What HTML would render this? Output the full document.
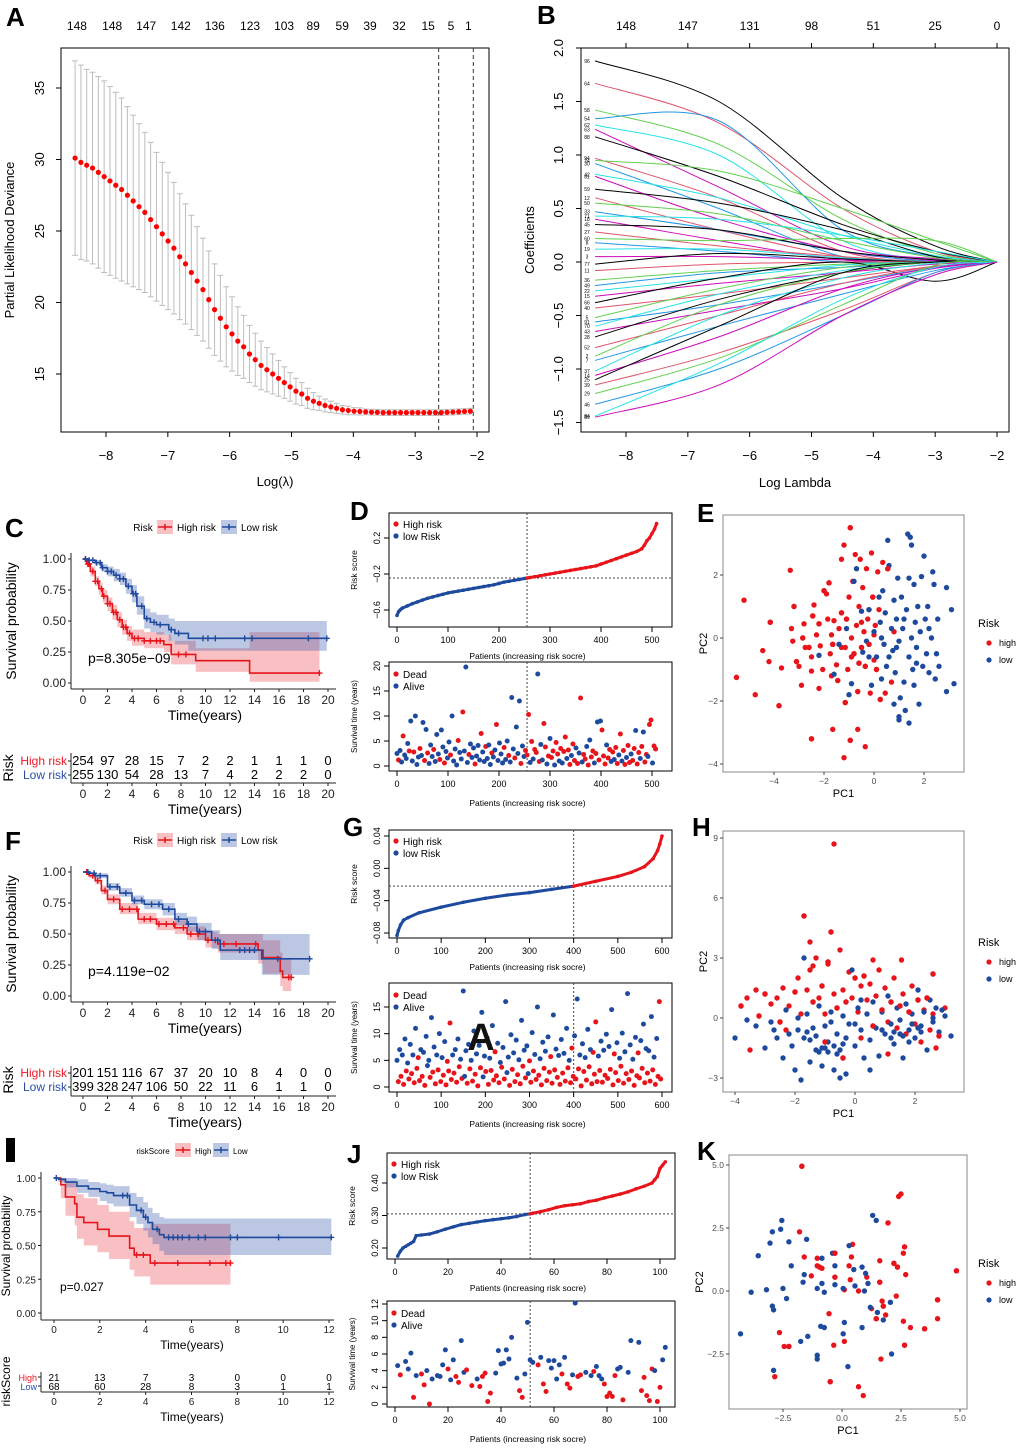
<!DOCTYPE html>
<html><head><meta charset="utf-8"><title>Prognostic model figure</title>
<style>html,body{margin:0;padding:0;background:#fff}svg{display:block;font-family:"Liberation Sans",Arial,sans-serif}</style>
</head><body>
<svg id="fig" width="1020" height="1451" viewBox="0 0 1020 1451" xmlns="http://www.w3.org/2000/svg"></svg>
<script>
// ---------------- DATA ----------------
// Panel A (CV deviance)
const aLambdaStart=-8.5, aLambdaStep=0.094;
const aMean=[30.1,29.8,29.6,29.4,29.1,28.8,28.5,28.2,27.9,27.5,27.1,26.7,26.3,25.8,25.3,24.8,24.3,23.8,23.2,22.7,22.1,21.5,20.9,20.2,19.5,18.9,18.3,17.8,17.3,16.9,16.4,16.0,15.6,15.3,15.0,14.7,14.4,14.1,13.8,13.6,13.3,13.1,12.95,12.8,12.7,12.6,12.5,12.45,12.4,12.38,12.35,12.33,12.32,12.3,12.3,12.3,12.3,12.3,12.3,12.3,12.3,12.3,12.3,12.3,12.32,12.34,12.36,12.38,12.4];
const aSE=[6.8,6.8,6.7,6.7,6.7,6.7,6.6,6.5,6.4,6.2,6.0,5.8,5.6,5.4,5.2,5.0,4.8,4.6,4.4,4.2,4.0,3.8,3.6,3.4,3.2,3.0,2.8,2.6,2.4,2.2,2.0,1.85,1.7,1.55,1.4,1.25,1.1,1.0,0.9,0.8,0.7,0.6,0.5,0.45,0.4,0.35,0.3,0.3,0.25,0.25,0.2,0.2,0.2,0.2,0.2,0.2,0.2,0.2,0.2,0.2,0.2,0.2,0.2,0.2,0.2,0.2,0.2,0.2,0.2];
const aTopLabels=['148','148','147','142','136','123','103','89','59','39','32','15','5','1'];
const aTopLambda=[-8.47,-7.9,-7.35,-6.79,-6.24,-5.67,-5.12,-4.65,-4.18,-3.73,-3.26,-2.79,-2.42,-2.14];
const aXTicks=[-8,-7,-6,-5,-4,-3,-2];
const aYTicks=[15,20,25,30,35];
const aCutoffs=[-2.62,-2.06];
// Panel B (coefficient paths), knots at log lambda
const bKnots=[-8.5,-6.5,-4.5,-3,-2];
const bPaths=[[1.88,1.5,0.6,0.15,0],[1.67,1.3,0.5,0.1,0],[1.42,1.1,0.4,0.08,0],[1.34,1.32,0.3,0.05,0],[1.28,1.0,0.2,0.02,0],[1.24,0.7,0.15,0.03,0],[1.17,0.8,0.35,0.1,0],[0.97,0.6,0.1,0,0],[0.95,0.85,0.5,0.2,0],[0.92,0.5,0.05,0,0],[0.82,0.6,0.25,0.06,0],[0.8,0.4,0.1,0.01,0],[0.68,0.55,0.3,0.05,0],[0.6,0.3,0.05,0,0],[0.55,0.45,0.2,0.04,0],[0.47,0.3,0.1,0,0],[0.43,0.4,0.25,0.1,0],[0.4,0.2,0.02,0,0],[0.35,0.3,0.1,0.02,0],[0.28,0.15,0.05,0,0],[0.22,0.2,0.22,0.2,0],[0.18,0.1,0,0,0],[0.12,0.12,0.04,0,0],[0.05,0.05,0.02,0,0],[-0.02,0.08,0.03,0,0],[-0.08,-0.02,0,0,0],[-0.17,-0.08,-0.02,0,0],[-0.22,-0.1,-0.05,0,0],[-0.27,-0.15,-0.03,0,0],[-0.32,-0.2,-0.1,-0.02,0],[-0.38,-0.15,0,-0.18,0],[-0.43,-0.3,-0.15,-0.04,0],[-0.52,-0.25,-0.05,0,0],[-0.56,-0.4,-0.2,-0.05,0],[-0.6,-0.3,-0.08,0,0],[-0.65,-0.45,-0.25,-0.06,0],[-0.7,-0.35,-0.1,0,0],[-0.8,-0.5,-0.2,-0.04,0],[-0.88,-0.4,-0.1,0,0],[-0.92,-0.6,-0.3,-0.08,0],[-1.02,-0.5,-0.15,-0.01,0],[-1.06,-0.7,-0.25,-0.05,0],[-1.1,-0.6,-0.1,0,0],[-1.15,-0.85,-0.45,-0.1,0],[-1.23,-0.9,-0.4,-0.03,0],[-1.33,-1.0,-0.5,-0.1,0],[-1.44,-0.95,-0.35,-0.05,0],[-1.45,-1.15,-0.5,-0.12,0]];
const bNames=['96','64','58','54','62','63','88','94','24','30','42','81','59','12','50','33','71','18','45','27','60','8','19','3','77','11','36','49','22','15','66','40','5','91','70','43','28','52','2','7','37','14','25','39','29','46','84','89'];
const bTopLabels=['148','147','131','98','51','25','0'];
const bTopLambda=[-8,-7,-6,-5,-4,-3,-2];
const bXTicks=[-8,-7,-6,-5,-4,-3,-2];
const bYTicks=[-1.5,-1.0,-0.5,0.0,0.5,1.0,1.5,2.0];
const bColors=['#000000','#DF536B','#61D04F','#2297E6','#28E2E5','#CD0BBC'];
// KM panel C
const cHighT=[0,0.3,0.6,1,1.3,1.6,2,2.4,2.8,3.2,3.6,4,5,6.6,7.2,9.2,13.6];
const cHighS=[1,0.96,0.9,0.82,0.76,0.7,0.64,0.57,0.51,0.45,0.4,0.36,0.34,0.31,0.23,0.18,0.08];
const cHighLo=[1,0.93,0.86,0.78,0.71,0.65,0.58,0.51,0.45,0.39,0.34,0.3,0.28,0.25,0.15,0.09,0.01];
const cHighUp=[1,0.99,0.94,0.86,0.81,0.75,0.69,0.63,0.57,0.51,0.46,0.43,0.41,0.39,0.34,0.28,0.41];
const cHighCens=[0.2,0.4,0.5,0.8,1,1.2,1.5,1.7,2,2.2,2.5,2.7,3,3.3,3.5,3.8,4.2,4.5,5,5.5,6,6.3,7.8,8.4,19.3];
const cLowT=[0,0.5,1,1.5,2,2.5,3,3.5,4,4.4,5,5.5,6,7,7.5,8.6];
const cLowS=[1,0.99,0.97,0.93,0.9,0.87,0.84,0.78,0.72,0.62,0.52,0.49,0.47,0.43,0.40,0.36];
const cLowLo=[1,0.98,0.95,0.9,0.86,0.82,0.79,0.72,0.65,0.55,0.44,0.41,0.39,0.34,0.31,0.26];
const cLowUp=[1,1,0.99,0.96,0.94,0.92,0.89,0.84,0.79,0.7,0.6,0.57,0.55,0.52,0.5,0.5];
const cLowCens=[0.2,0.5,0.8,1.1,1.4,1.6,2,2.3,2.7,3,3.3,3.7,4.1,4.3,4.8,5.2,5.8,6.3,7.2,7.8,9.8,10.2,10.8,13.2,13.8,18.4,19.9];
const cHighEnd=19.3, cLowEnd=19.9;
const cTabHigh=[254,97,28,15,7,2,2,1,1,1,0];
const cTabLow=[255,130,54,28,13,7,4,2,2,2,0];
// KM panel F
const fHighT=[0,0.5,1,1.5,2,3,4.5,6,7.5,8.5,10,11,14.3,14.7,16.1,16.3];
const fHighS=[1,0.97,0.93,0.85,0.78,0.7,0.62,0.58,0.55,0.5,0.45,0.42,0.37,0.31,0.2,0.15];
const fHighLo=[1,0.95,0.9,0.82,0.74,0.66,0.58,0.53,0.5,0.45,0.39,0.35,0.26,0.18,0.08,0.04];
const fHighUp=[1,0.99,0.96,0.89,0.82,0.75,0.67,0.63,0.61,0.56,0.52,0.5,0.5,0.45,0.35,0.3];
const fHighCens=[0.3,0.8,1.2,1.8,2.5,3.2,3.8,4.4,5,5.5,6.2,6.8,7.4,8.2,8.8,9.4,10.2,10.8,11.5,12.5,14.1,16.8,17];
const fLowT=[0,0.5,1,2,3,4,5,6.5,7.5,8.5,9.3,10.5,11.2,14.6];
const fLowS=[1,0.99,0.97,0.88,0.83,0.77,0.74,0.7,0.62,0.58,0.52,0.45,0.37,0.3];
const fLowLo=[1,0.98,0.95,0.85,0.8,0.74,0.7,0.65,0.57,0.52,0.45,0.38,0.29,0.17];
const fLowUp=[1,1,0.99,0.91,0.87,0.81,0.78,0.75,0.67,0.64,0.59,0.53,0.5,0.5];
const fLowCens=[0.4,0.9,1.4,2.2,2.8,3.5,4.2,4.8,5.6,6.2,7,7.8,8.6,9.5,10,11,12.8,13.2,13.6,14,15.9,18.5];
const fHighEnd=17, fLowEnd=18.5;
const fTabHigh=[201,151,116,67,37,20,10,8,4,0,0];
const fTabLow=[399,328,247,106,50,22,11,6,1,1,0];
// KM panel I
const iHighT=[0,0.3,0.5,0.9,1,1.3,1.9,2.4,3.3,3.5,4.2];
const iHighS=[1,0.95,0.86,0.81,0.71,0.67,0.62,0.57,0.48,0.43,0.37];
const iHighLo=[1,0.85,0.72,0.65,0.55,0.5,0.45,0.4,0.32,0.27,0.21];
const iHighUp=[1,1,0.98,0.96,0.88,0.85,0.8,0.75,0.68,0.63,0.66];
const iHighCens=[3.6,3.9,4.4,5.4,6.8,7.5,7.7];
const iLowT=[0,0.2,0.5,1,1.5,2,2.3,2.6,3.3,3.6,3.9,4.1,4.3,4.6,4.8];
const iLowS=[1,0.99,0.97,0.94,0.92,0.9,0.89,0.87,0.8,0.76,0.71,0.67,0.62,0.58,0.56];
const iLowLo=[1,0.97,0.93,0.89,0.86,0.83,0.81,0.79,0.71,0.66,0.61,0.56,0.51,0.46,0.43];
const iLowUp=[1,1,1,0.99,0.97,0.96,0.95,0.94,0.89,0.86,0.82,0.78,0.74,0.71,0.7];
const iLowCens=[0.1,3,3.2,3.8,4.0,4.5,5.0,5.2,5.4,5.6,5.9,6.3,6.6,7.7,8.0,9.8,12.1];
const iHighEnd=7.7, iLowEnd=12.1;
const iTabHigh=[21,13,7,3,0,0,0];
const iTabLow=[68,60,28,8,3,1,1];
// Panel D (risk curve + survival scatter)
const dRank=[0,3,6,10,20,30,40,50,60,70,80,90,100,110,120,130,140,150,160,170,180,190,200,210,220,230,240,250,255,260,270,280,290,300,310,320,330,340,350,360,370,380,390,400,410,420,430,440,450,460,470,480,485,490,495,500,505,509];
const dRisk=[-0.66,-0.62,-0.6,-0.58,-0.555,-0.53,-0.51,-0.49,-0.47,-0.455,-0.44,-0.425,-0.41,-0.4,-0.39,-0.38,-0.37,-0.36,-0.35,-0.34,-0.33,-0.32,-0.305,-0.29,-0.28,-0.27,-0.26,-0.25,-0.245,-0.24,-0.23,-0.22,-0.21,-0.2,-0.19,-0.18,-0.17,-0.16,-0.15,-0.14,-0.13,-0.12,-0.11,-0.09,-0.07,-0.05,-0.03,-0.01,0.01,0.03,0.05,0.08,0.12,0.17,0.2,0.25,0.3,0.36];
const dCut=255, dRiskCut=-0.245;
const dRankStep=3;
const dTime=[2.5,1.2,3.1,0.8,6,2.2,1.5,4.5,3,9,1,2.8,10,0.3,1.8,3.5,2.1,8.7,1.1,7.3,2.6,0.5,4.2,1.9,3.3,0.9,6.3,2.4,1.3,7.2,3.8,0.6,2.9,1.6,4.8,2.2,10,1.0,3.4,0.2,5.1,2.7,1.4,10.8,3.0,19.8,0.7,2.3,4.4,1.7,3.6,0.4,2.0,4.1,1.2,6.5,2.8,0.9,3.9,1.5,4.2,0.3,2.6,1.8,3.2,8.3,1.1,4.6,2.4,0.6,3.7,1.3,5.0,2.1,0.8,13.7,3.4,1.6,7.8,2.5,13.0,0.5,4.0,1.9,3.1,2.2,10.3,0.7,4.9,1.4,3.3,2.7,18.4,0.9,4.3,1.2,8.5,3.8,0.4,2.0,5.5,1.7,3.0,0.2,4.7,2.4,1.0,3.5,0.6,2.9,5.8,1.5,3.2,0.3,2.1,4.4,1.1,3.6,0.5,2.6,13.6,0.8,2.3,1.4,3.9,0.2,5.2,1.8,3.0,0.6,2.5,8.8,1.2,9.0,7.2,2.0,0.4,4.2,1.6,3.3,0.9,2.8,1.3,3.7,0.5,2.2,6.4,1.0,3.1,0.3,1.7,4.1,0.7,2.4,1.1,3.5,7.1,0.4,2.7,1.5,3.9,6.8,0.8,2.3,1.9,8.3,9.2,0.6,4.0,3.4];
const dStatus=("0100100010"+"0100010010"+"1000100010"+"0100010000"+"1001000100"+"0100010010"+"0010010000"+"1001000100"+"01001"+"1101011010"+"0110101101"+"1010110110"+"1101010110"+"1011010101"+"1101101011"+"0101101101"+"1011010110"+"11011").split('').map(Number);
// Panel G
const gRank=[0,3,8,15,25,50,100,150,200,250,300,350,400,450,500,530,560,580,590,595,600];
const gRisk=[-0.083,-0.077,-0.07,-0.064,-0.061,-0.055,-0.048,-0.042,-0.037,-0.033,-0.03,-0.026,-0.022,-0.016,-0.01,-0.005,0.002,0.012,0.022,0.03,0.04];
const gCut=400, gRiskCut=-0.022;
const gRankStep=3;
const gTime=[5,1,7,2,6,0.5,9,3,4.5,1.5,8,2.5,6,0.8,11,3.5,5.5,1.2,7,2,6.5,0.3,9.5,4,5,1.8,13,2.8,7.5,0.6,6,3.2,10,1,5.5,2.2,8.5,0.4,4.8,3,12,1.4,6,2.6,7,0.9,9,3.8,5.2,1.6,18,2,6.8,0.7,8,3.4,5,1.1,10.5,2.4,6.2,0.2,7.8,3.6,14,1.9,5.8,2.9,9.2,0.5,5.4,3.1,11.5,1.3,6.6,2.1,8.2,0.8,4.6,3.7,7.4,1.5,16,2.7,5.6,0.3,9.8,3.3,6.4,1.0,8.8,2.3,5.1,0.6,12.5,3.9,6.9,1.7,7.7,2.5,4.9,0.9,10.2,3.0,6.1,1.4,15,2.2,5.3,0.4,8.4,3.5,6.7,1.2,9.4,2.8,5.7,0.7,13.5,3.2,7.1,1.8,5.9,0.5,8.9,2.6,6.3,1.1,11,3.6,5.0,0.8,7.3,2.0,9.6,1.5,16.5,3.4,6.0,0.2,8.1,2.9,5.5,1.3,10.8,3.8,7.0,0.6,6.5,2.4,12.2,1.0,5.8,3.1,8.6,0.9,6.9,2.2,9.9,1.6,7.6,3.3,14.5,0.4,6.2,2.7,8.3,1.2,5.4,3.9,10.1,0.7,6.6,2.5,17.5,1.4,7.9,3.0,5.2,0.3,9.3,2.1,6.4,1.7,8.7,3.5,11.8,0.8,7.2,2.6,6.8,1.1,13.2,3.2,5.6,0.5,9.1,2.0,16,1.5];
const gStatus=("0101010101"+"0101011101"+"0100010101"+"0101010111"+"1101010101"+"0001010101"+"0101000101"+"0101110101"+"0100010101"+"0101010100"+"1101010101"+"0101011101"+"0101010101"+"0111010101"+"0101010111"+"1101010101"+"0101110101"+"0101010101"+"0111010101"+"0101010111").split('').map(Number);
// Panel J
const jRank=[1,2,3,4,5,6,7,8,10,13,16,19,22,25,28,31,34,37,40,43,46,49,51,52,55,58,61,64,67,70,73,76,79,82,85,88,91,94,97,98,99,100,101,102];
const jRisk=[0.175,0.19,0.2,0.205,0.21,0.215,0.22,0.238,0.24,0.243,0.25,0.258,0.265,0.272,0.276,0.28,0.284,0.287,0.29,0.293,0.297,0.303,0.305,0.307,0.312,0.318,0.325,0.33,0.333,0.336,0.343,0.347,0.354,0.36,0.366,0.373,0.382,0.39,0.40,0.41,0.42,0.445,0.455,0.465];
const jCut=51, jRiskCut=0.305;
const jbRank=[1,2,4,5,6,7,8,10,11,12,13,14,16,17,18,19,20,21,22,23,24,25,26,27,29,31,32,33,34,35,36,38,39,40,41,42,43,44,46,47,48,49,50,51,52,54,55,56,57,58,59,60,61,62,63,64,65,66,67,68,69,70,72,74,75,76,77,78,79,80,81,82,83,84,85,86,88,89,92,93,94,95,96,97,98,99,100,101,102];
const jbTime=[4.6,3.5,5.1,4.2,6.1,0.8,3.4,3.6,2.3,4.0,0.0,3.0,3.4,3.3,4.7,6.5,4.2,2.9,5.3,3.3,2.6,7.6,3.8,4.1,2.2,3.0,2.1,3.3,3.7,0.3,1.3,3.7,6.4,4.8,4.9,6.5,5.4,8.0,3.1,1.6,0.8,3.6,9.8,5.3,5.0,4.7,5.6,2.4,1.5,5.2,4.3,5.2,3.0,4.7,3.6,5.6,2.4,1.9,3.5,12.1,3.3,3.5,3.8,3.4,3.9,4.5,3.4,3.0,2.4,0.9,1.3,0.9,3.4,4.2,4.4,0.5,3.8,7.6,7.4,1.6,3.2,1.0,0.4,4.2,4.0,0.3,2.0,5.3,6.8];
const jbDead=[0,1,0,0,0,1,0,1,1,0,1,0,0,0,0,0,1,0,0,1,1,0,0,1,1,0,1,1,1,1,1,0,0,0,0,0,0,0,0,1,1,0,0,0,0,1,0,1,1,0,0,0,0,0,1,0,1,1,0,0,1,1,0,0,1,0,0,0,1,1,1,1,1,0,0,1,0,0,0,1,1,1,1,1,0,1,1,0,0];
// PCA panels
const eHighX=[-5.5,-5.2,-4.75,-4.15,-4.45,-4.2,-3.8,-3.7,-3.35,-3.2,-3.3,-3.25,-3.1,-3.0,-2.9,-2.85,-2.75,-2.8,-2.6,-2.5,-2.5,-2.45,-2.4,-2.3,-2.2,-2.15,-2.05,-2.0,-1.9,-1.85,-1.8,-1.75,-1.7,-1.65,-1.6,-1.5,-1.45,-1.4,-1.3,-1.3,-1.2,-1.15,-1.1,-1.05,-1.0,-0.95,-0.9,-0.85,-0.8,-0.75,-0.7,-0.65,-0.6,-0.55,-0.5,-0.45,-0.4,-0.35,-0.3,-0.25,-0.2,-0.15,-0.1,-0.05,0,0.05,0.1,0.15,0.2,0.25,0.35,0.45,0.55,0.7,0.8,-2.5,-1.65,-0.65,-0.95,-0.35,-1.2,-1.15,-1.7,-2.2,-0.9,-0.5,-0.2,-0.6,0.0,-1.3];
const eHighY=[-1.25,1.2,-1.8,0.5,-0.4,-0.75,-2.15,-0.95,2.15,1.0,0.3,-0.1,-0.75,-0.9,-1.5,0.0,-0.3,0.45,-0.3,-0.6,-1.05,0.7,1.05,0.1,0.45,-0.25,-1.0,1.5,1.4,0.6,1.75,-0.5,0.1,-0.2,0.55,-0.85,-1.35,0.3,2.5,0.8,2.95,-0.3,0.6,-1.0,1.3,3.5,0.0,1.8,-0.5,2.65,0.4,-1.7,1.0,2.5,-0.3,1.6,0.2,-0.9,2.2,0.6,-0.2,-1.75,2.7,1.3,-0.7,0.4,-1.0,2.1,0.9,-1.95,2.4,-1.75,2.2,-1.4,0.2,-3.2,-2.9,-2.9,-3.25,-3.45,-3.8,-2.05,-1.2,-1.6,-0.6,0.5,0.9,-0.8,0.1,-0.3];
const eLowX=[-2.2,-1.6,-1.4,-1.1,-1.0,-0.9,-0.8,-0.7,-0.5,-0.45,-0.3,-0.2,-0.1,0,0.1,0.2,0.25,0.3,0.35,0.4,0.45,0.5,0.55,0.6,0.7,0.75,0.8,0.85,0.9,0.95,1.0,1.0,1.05,1.1,1.15,1.2,1.25,1.3,1.35,1.4,1.45,1.5,1.5,1.55,1.6,1.65,1.7,1.75,1.8,1.85,1.9,1.95,2.0,2.05,2.1,2.15,2.2,2.3,2.35,2.4,2.45,2.5,2.55,2.6,2.9,2.9,3.1,3.2,1.0,1.4,0.8,1.7,0.6,1.2,0.3,1.6,2.2,0.9,-0.2,1.4];
const eLowY=[-0.55,-1.15,-0.2,0.3,-1.8,-1.45,1.8,2.2,0.85,-0.45,-0.1,0.9,-1.5,0.2,-0.6,1.3,0.5,-1.3,1.5,-0.2,0.8,-0.9,3.1,2.3,0.3,-0.4,1.2,-1.1,0.6,1.9,-0.1,-2.5,-1.9,1.3,0.3,-1.4,-2.3,0.9,3.3,-0.6,3.2,2.95,0.0,-1.0,1.7,0.5,-0.3,1.0,-2.1,0.2,1.95,-0.9,2.6,0.6,-0.5,1.0,-1.1,0.0,2.1,1.7,-1.3,-0.5,0.6,-0.9,1.6,-1.7,0.9,-1.45,-2.6,-2.7,-2.1,-0.8,-0.6,0.6,0.0,-1.5,0.3,-0.3,-0.6,1.9];
const hHighX=[-3.8,-3.6,-3.3,-3.0,-2.8,-2.6,-2.5,-2.4,-2.2,-2.0,-1.9,-1.8,-1.7,-1.6,-1.5,-1.4,-1.3,-1.2,-1.1,-1.0,-0.9,-0.8,-0.7,-0.7,-0.6,-0.5,-0.4,-0.3,-0.2,-0.1,0,0.1,0.2,0.3,0.4,0.5,0.6,0.7,0.8,0.9,1.0,1.1,1.2,1.3,1.4,1.5,1.6,1.7,1.8,1.9,2.0,2.1,2.2,2.3,2.4,2.5,2.6,2.8,3.0,-2.3,-1.0,0.2,1.1,-0.4,2.7,-3.5,-3.2,-1.5,-1.4,-0.9,0.6,1.55,2.6];
const hHighY=[0.6,1.0,1.4,1.2,0.7,1.0,-0.2,1.5,0.6,1.3,2.0,0.2,5.1,1.4,3.8,0.8,3.0,1.0,1.6,0.2,2.7,4.3,8.7,1.2,0.5,3.4,1.4,0.8,2.3,1.0,2.0,0.3,1.6,2.1,0.9,1.7,-0.4,1.1,2.4,0.4,1.5,-0.2,0.8,2.0,-0.5,0.6,1.2,-0.8,0.3,1.6,-0.3,0.9,-1.2,0.4,1.0,-0.6,0.2,-0.9,0.5,-0.6,-1.2,-1.0,-1.8,-2.0,-1.5,-1.6,0.1,2.4,2.6,2.8,2.9,2.9,2.2];
const hLowX=[-4.0,-3.6,-3.3,-3.0,-2.8,-2.6,-2.4,-2.3,-2.1,-2.0,-1.9,-1.8,-1.7,-1.6,-1.5,-1.4,-1.3,-1.2,-1.1,-1.0,-0.9,-0.8,-0.7,-0.6,-0.5,-0.4,-0.3,-0.2,-0.1,0,0.1,0.2,0.3,0.4,0.5,0.6,0.7,0.8,0.9,1.0,1.1,1.2,1.3,1.4,1.5,1.6,1.7,1.8,1.9,2.0,2.1,2.2,2.3,2.4,2.5,2.6,2.7,2.8,2.9,3.0,3.2,-1.7,-0.5,0.5,-2.2,-1.5,-1.0,-0.3,0.9,1.6,2.1,-1.2,-0.7,0.0,1.3,1.9,2.6,-2.7,-1.9,-0.8,0.2,-1.1,-0.6,-0.9,-1.3,1.5,1.8,2.2,1.2,-0.4,-1.6];
const hLowY=[-1.0,-0.1,-0.4,-1.5,-0.2,-1.0,-2.0,0.4,-1.4,-2.6,-0.6,-3.1,-1.0,0.2,-2.2,-0.5,-1.6,0.6,-2.4,-0.4,-1.2,0.3,-2.6,-0.8,-1.6,0.1,-2.8,-0.3,2.4,-1.4,0.5,-0.6,-2.0,0.2,-1.1,0.8,-0.5,-1.9,0.3,-0.8,1.1,-0.3,-1.3,0.5,-0.1,-2.0,0.7,-0.6,0.2,-1.0,1.4,-0.4,0.3,-1.6,0.9,-0.2,0.5,-0.7,0.4,0.1,-0.9,3.0,-3.0,-2.6,-0.8,-1.1,-1.5,-1.0,-0.6,-0.9,-0.5,-1.7,-1.4,-0.3,-0.7,-0.3,0.0,-0.6,0.0,-0.2,0.9,-1.5,-1.8,-1.7,-0.9,-0.8,-1.2,-0.7,-1.0,-1.3,-0.7];
const kHighX=[-1.7,2.4,2.5,1.95,-1.8,0.45,2.65,-1.6,-1.05,-0.3,0.4,1.6,2.2,2.6,-1.05,-0.95,-0.85,0.3,2.35,2.7,-1.3,-0.3,0.35,1.05,1.6,0.1,0.7,4.85,2.3,1.7,1.75,1.25,1.85,1.45,-0.55,2.6,4.05,4.05,2.9,3.5,-2.65,-2.45,-2.25,-0.35,0.1,2.65,1.65,-2.85,-0.5,0.7,0.9];
const kHighY=[4.95,3.75,3.85,2.7,2.35,1.85,1.75,1.35,1.3,1.5,1.35,1.2,1.1,1.5,1.0,0.95,0.9,1.0,0.95,0.65,0.6,0.55,0.45,0.55,0.35,0.05,0.0,0.8,-0.2,-0.4,-0.6,-0.7,-0.95,-1.1,-0.9,-1.2,-0.35,-1.1,-1.45,-1.5,-1.65,-2.2,-2.2,-2.15,-2.0,-2.15,-2.7,-3.4,-3.6,-3.8,-4.15];
const kLowX=[1.3,1.45,-2.55,-2.95,-2.6,-2.25,-1.5,-3.05,-3.55,-0.4,0.3,-0.85,-2.15,-0.3,0.5,0.85,1.0,-1.6,-1.65,-0.85,-0.3,0.55,1.1,-2.5,-1.05,0.05,0.95,-3.2,-3.85,-0.75,-2.35,1.2,2.05,-2.95,-2.9,1.5,1.75,0.1,-0.9,-0.75,0.85,-1.45,-4.3,0.05,-1.75,-1.05,-1.05,2.1,-2.9,0.25];
const kLowY=[3.0,2.8,2.8,2.35,2.45,1.95,2.05,1.9,1.4,1.5,1.8,1.3,1.0,1.0,0.85,0.95,0.7,0.65,0.35,0.3,0.25,0.2,0.3,0.1,0.1,0.1,0.0,0.05,-0.05,-0.05,-0.3,-0.65,-0.45,-0.6,-0.75,-0.85,-1.15,-1.25,-1.4,-1.45,-1.45,-1.8,-1.7,-1.7,-2.0,-2.55,-2.7,-2.5,-3.15,-3.0];

// ---------------- HELPERS ----------------
const NS='http://www.w3.org/2000/svg';
const svg=document.getElementById('fig');
const RED='#e8141b', BLUE='#1e4a9e';
function lin(d0,d1,r0,r1){return function(v){return r0+(v-d0)*(r1-r0)/(d1-d0);};}
function E(tag,attrs,parent){const el=document.createElementNS(NS,tag);for(const k in attrs)el.setAttribute(k,attrs[k]);(parent||svg).appendChild(el);return el;}
function grp(name){const g=E('g',{});


return g;}
function T(x,y,s,size,name,parent,o){o=o||{};const el=E('text',{x:x,y:y,'font-size':size,'text-anchor':o.a||'middle',fill:o.fill||'#000'},parent);


if(o.rot)el.setAttribute('transform','rotate(-90 '+x+' '+y+')');if(o.w)el.setAttribute('font-weight',o.w);el.textContent=s;return el;}
function L(x1,y1,x2,y2,stroke,w,name,parent,dash){const el=E('line',{x1:x1,y1:y1,x2:x2,y2:y2,stroke:stroke,'stroke-width':w},parent);


if(dash)el.setAttribute('stroke-dasharray',dash);return el;}
function R(x,y,w,h,stroke,fill,name,parent,sw){const el=E('rect',{x:x,y:y,width:w,height:h,stroke:stroke,fill:fill,'stroke-width':sw||1},parent);


return el;}
function C(cx,cy,r,fill,name,parent){const el=E('circle',{cx:cx,cy:cy,r:r,fill:fill},parent);


return el;}
function P(d,stroke,fill,w,name,parent){const el=E('path',{d:d,stroke:stroke,fill:fill,'stroke-width':w},parent);


return el;}
function fmt(v,dec){return (v<0?'\u2212':'')+Math.abs(v).toFixed(dec);}
function letter(ch,x,y){T(x,y,ch,26,'panel-label-'+ch.toLowerCase(),svg,{a:'start',w:'bold'});}

function baseAxes(g,box,sx,sy,xt,yt,xdec,ydec,fs,ylabX,xlabY){
  R(box[0],box[1],box[2]-box[0],box[3]-box[1],'#000','none','plot-frame',g);
  xt.forEach(function(v){L(sx(v),box[3],sx(v),box[3]+5,'#000',1,'x-tick',g);T(sx(v),xlabY,fmt(v,xdec),fs,'x-tick-label',g);});
  yt.forEach(function(v){L(box[0],sy(v),box[0]-5,sy(v),'#000',1,'y-tick',g);T(ylabX,sy(v),fmt(v,ydec),fs,'y-tick-label',g,{rot:1});});
}

// ---------------- PANEL A ----------------
(function(){
  const g=grp('panel-a-cv-deviance');
  const box=[61,48,489,432];
  const sx=lin(-8,-2,106,477), sy=lin(35,15,88,374);
  baseAxes(g,box,sx,sy,aXTicks,aYTicks,0,0,13,44,460);
  aTopLabels.forEach(function(s,i){T(sx(aTopLambda[i]),30,s,12,'top-df-label',g);});
  aCutoffs.forEach(function(v){L(sx(v),box[1],sx(v),box[3],'#333',1,'lambda-cutoff-line',g,'4,3');});
  aMean.forEach(function(m,i){const lx=aLambdaStart+i*aLambdaStep,x=sx(lx);
    L(x,sy(m+aSE[i]),x,sy(m-aSE[i]),'#bdbdbd',1,'error-bar',g);
    L(x-3,sy(m+aSE[i]),x+3,sy(m+aSE[i]),'#bdbdbd',1,'error-cap',g);
    L(x-3,sy(m-aSE[i]),x+3,sy(m-aSE[i]),'#bdbdbd',1,'error-cap',g);});
  aMean.forEach(function(m,i){C(sx(aLambdaStart+i*aLambdaStep),sy(m),2.6,'#f00','deviance-point',g);});
  T(275,486,'Log(\u03bb)',13,'x-axis-title',g);
  T(14,240,'Partial Likelihood Deviance',13,'y-axis-title',g,{rot:1});
  letter('A',6,26);
})();

// ---------------- PANEL B ----------------
(function(){
  const g=grp('panel-b-coefficient-paths');
  const box=[581,48,1009,432];
  const sx=lin(-8,-2,626,997), sy=lin(0,2,262,48);
  baseAxes(g,box,sx,sy,bXTicks,bYTicks,0,1,13,563,460);
  bTopLambda.forEach(function(v,i){L(sx(v),box[1],sx(v),box[1]-5,'#000',1,'top-tick',g);T(sx(v),30,bTopLabels[i],12,'top-df-label',g);});
  bPaths.forEach(function(vals,li){
    const pts=bKnots.map(function(k,j){return [sx(k),sy(vals[j])];});
    let d='M'+pts[0][0]+','+pts[0][1];
    for(let j=0;j<pts.length-1;j++){const p0=pts[Math.max(0,j-1)],p1=pts[j],p2=pts[j+1],p3=pts[Math.min(pts.length-1,j+2)];
      d+=' C'+(p1[0]+(p2[0]-p0[0])/6)+','+(p1[1]+(p2[1]-p0[1])/6)+' '+(p2[0]-(p3[0]-p1[0])/6)+','+(p2[1]-(p3[1]-p1[1])/6)+' '+p2[0]+','+p2[1];}
    P(d,bColors[li%6],'none',1,'coef-path',g);
    T(587,sy(vals[0])+2,bNames[li],5,'variable-label',g);
  });
  T(795,487,'Log Lambda',13,'x-axis-title',g);
  T(534,240,'Coefficients',13,'y-axis-title',g,{rot:1});
  letter('B',537,24);
})();

// ---------------- KM ----------------
function stepAt(T_,S_,t){let s=S_[0];for(let i=0;i<T_.length;i++){if(T_[i]<=t)s=S_[i];}return s;}
function kmPanel(cfg){
  const g=grp(cfg.name);
  const sx=cfg.sx, sy=cfg.sy;
  T(cfg.leg[0],cfg.leg[1]+4,cfg.legTitle,cfg.legFs,'legend-title',g);
  cfg.groups.forEach(function(gr,k){const lx=cfg.legX[k];
    R(lx,cfg.leg[1]-7,16,14,'none',gr.fill,'legend-key-'+gr.key,g);
    L(lx+1,cfg.leg[1],lx+15,cfg.leg[1],gr.color,1.5,'legend-line-'+gr.key,g);
    L(lx+8,cfg.leg[1]-3,lx+8,cfg.leg[1]+3,gr.color,1.5,'legend-cross-'+gr.key,g);
    T(lx+20,cfg.leg[1]+4,gr.label,cfg.legFs,'legend-label-'+gr.key,g,{a:'start'});});
  cfg.groups.forEach(function(gr){
    const n=gr.T.length;let d='M'+sx(gr.T[0])+','+sy(gr.Up[0]);
    for(let i=1;i<n;i++)d+=' H'+sx(gr.T[i])+' V'+sy(gr.Up[i]);
    d+=' H'+sx(gr.end)+' V'+sy(gr.Lo[n-1]);
    for(let i=n-1;i>=1;i--)d+=' H'+sx(gr.T[i])+' V'+sy(gr.Lo[i-1]);
    d+=' H'+sx(gr.T[0])+' Z';
    P(d,'none',gr.fill,0,'ci-band-'+gr.key,g);});
  cfg.groups.forEach(function(gr){
    let d='M'+sx(gr.T[0])+','+sy(gr.S[0]);
    for(let i=1;i<gr.T.length;i++)d+=' H'+sx(gr.T[i])+' V'+sy(gr.S[i]);
    d+=' H'+sx(gr.end);
    P(d,gr.color,'none',1.6,'survival-curve-'+gr.key,g);
    gr.cens.forEach(function(t){const x=sx(t),y=sy(stepAt(gr.T,gr.S,t));
      L(x-3,y,x+3,y,gr.color,1.4,'censor-mark',g);L(x,y-3,x,y+3,gr.color,1.4,'censor-mark',g);});});
  const ax=cfg.axisX, ay=cfg.axisY;
  L(ax,cfg.yTop,ax,ay,'#222',1,'y-axis-line',g);
  L(ax,ay,cfg.xRight,ay,'#222',1,'x-axis-line',g);
  cfg.yt.forEach(function(v){L(ax,sy(v),ax-3,sy(v),'#222',1,'y-tick',g);T(ax-5,sy(v)+4,v.toFixed(2),cfg.tfs,'y-tick-label',g,{a:'end',fill:'#222'});});
  cfg.xt.forEach(function(v){L(sx(v),ay,sx(v),ay+3,'#222',1,'x-tick',g);T(sx(v),ay+cfg.tfs+3,String(v),cfg.tfs,'x-tick-label',g,{fill:'#222'});});
  T(cfg.titleX,ay+cfg.tfs+19,'Time(years)',cfg.afs,'x-axis-title',g);
  T(cfg.ytitleX,(cfg.yTop+ay)/2,'Survival probability',cfg.afs,'y-axis-title',g,{rot:1});
  T(cfg.pPos[0],cfg.pPos[1],cfg.pText,cfg.afs,'p-value',g,{a:'start'});
  const tb=cfg.table;
  L(ax,tb.top,ax,tb.axis,'#222',1,'table-y-axis',g);
  L(ax,tb.axis,cfg.xRight,tb.axis,'#222',1,'table-x-axis',g);
  cfg.groups.forEach(function(gr,k){const ry=tb.rows[k];
    L(ax,ry,ax-3,ry,'#222',1,'table-tick',g);
    T(ax-4,ry+4,gr.tabLabel,cfg.labFs,'table-row-label-'+gr.key,g,{a:'end',fill:gr.tcolor});
    gr.tab.forEach(function(n,i){T(sx(cfg.xt[i]),ry+4,String(n),cfg.tabFs,'at-risk-count',g);});});
  cfg.xt.forEach(function(v){L(sx(v),tb.axis,sx(v),tb.axis+3,'#222',1,'table-x-tick',g);T(sx(v),tb.axis+cfg.tfs+3,String(v),cfg.tfs,'table-x-tick-label',g,{fill:'#222'});});
  T(cfg.titleX,tb.axis+cfg.tfs+19,'Time(years)',cfg.afs,'table-x-axis-title',g);
  T(tb.titleX,(tb.rows[0]+tb.rows[1])/2,tb.title,cfg.afs,'table-y-axis-title',g,{rot:1});
}
const PINK='rgba(240,90,100,0.38)', LBLUE='rgba(60,95,175,0.35)';
const xt20=[0,2,4,6,8,10,12,14,16,18,20];
kmPanel({name:'panel-c-km-training',sx:lin(0,20,83,328),sy:lin(0,1,683,559),leg:[143,527],legTitle:'Risk',legFs:10,legX:[157,221],
  groups:[{key:'high',label:'High risk',tabLabel:'High risk',T:cHighT,S:cHighS,Lo:cHighLo,Up:cHighUp,end:cHighEnd,cens:cHighCens,color:RED,tcolor:'#f01820',fill:PINK,tab:cTabHigh},
          {key:'low',label:'Low risk',tabLabel:'Low risk',T:cLowT,S:cLowS,Lo:cLowLo,Up:cLowUp,end:cLowEnd,cens:cLowCens,color:BLUE,tcolor:'#2a4ea8',fill:LBLUE,tab:cTabLow}],
  axisX:71,axisY:689,yTop:553,xRight:336,yt:[0,0.25,0.5,0.75,1],xt:xt20,tfs:12,afs:14,titleX:205,ytitleX:16,pPos:[88,663],pText:'p=8.305e\u221209',
  tabFs:13,labFs:12,table:{top:753,axis:783,rows:[761,775],title:'Risk',titleX:13}});
kmPanel({name:'panel-f-km-validation',sx:lin(0,20,83,328),sy:lin(0,1,996,872),leg:[143,840],legTitle:'Risk',legFs:10,legX:[157,221],
  groups:[{key:'high',label:'High risk',tabLabel:'High risk',T:fHighT,S:fHighS,Lo:fHighLo,Up:fHighUp,end:fHighEnd,cens:fHighCens,color:RED,tcolor:'#f01820',fill:PINK,tab:fTabHigh},
          {key:'low',label:'Low risk',tabLabel:'Low risk',T:fLowT,S:fLowS,Lo:fLowLo,Up:fLowUp,end:fLowEnd,cens:fLowCens,color:BLUE,tcolor:'#2a4ea8',fill:LBLUE,tab:fTabLow}],
  axisX:71,axisY:1002,yTop:866,xRight:336,yt:[0,0.25,0.5,0.75,1],xt:xt20,tfs:12,afs:14,titleX:205,ytitleX:16,pPos:[88,976],pText:'p=4.119e\u221202',
  tabFs:13,labFs:12,table:{top:1066,axis:1096,rows:[1073,1087],title:'Risk',titleX:13}});
kmPanel({name:'panel-i-km-external',sx:lin(0,12,54,329),sy:lin(0,1,1313,1178),leg:[153,1150],legTitle:'riskScore',legFs:8,legX:[175,213],
  groups:[{key:'high',label:'High',tabLabel:'High',T:iHighT,S:iHighS,Lo:iHighLo,Up:iHighUp,end:iHighEnd,cens:iHighCens,color:RED,tcolor:'#f01820',fill:PINK,tab:iTabHigh},
          {key:'low',label:'Low',tabLabel:'Low',T:iLowT,S:iLowS,Lo:iLowLo,Up:iLowUp,end:iLowEnd,cens:iLowCens,color:BLUE,tcolor:'#2a4ea8',fill:LBLUE,tab:iTabLow}],
  axisX:41,axisY:1320,yTop:1172,xRight:334,yt:[0,0.25,0.5,0.75,1],xt:[0,2,4,6,8,10,12],tfs:10,afs:12,titleX:192,ytitleX:10,pPos:[60,1291],pText:'p=0.027',
  tabFs:10,labFs:9,table:{top:1372,axis:1392,rows:[1377,1386],title:'riskScore',titleX:10}});
letter('C',5,537);letter('F',5,850);
R(6,1138,9,24,'none','#000','panel-label-i',svg);

// ---------------- RISK PANELS ----------------
function riskPanel(cfg){
  const g=grp(cfg.name);
  const sx=cfg.sx;
  const b1=cfg.top, sy1=cfg.sy1;
  baseAxes(g,b1,sx,sy1,cfg.xt,cfg.yt1,0,cfg.ydec,9,b1[0]-9,b1[3]+16);
  L(b1[0],sy1(cfg.riskCut),b1[2],sy1(cfg.riskCut),'#444',1,'risk-cutoff-line',g,'2,2');
  L(sx(cfg.cut),b1[1],sx(cfg.cut),b1[3],'#444',1,'patient-cutoff-line',g,'2,2');
  for(let i=0;i<cfg.rank.length-1;i++){const col=cfg.rank[i]>=cfg.cut?RED:BLUE;
    L(sx(cfg.rank[i]),sy1(cfg.risk[i]),sx(cfg.rank[i+1]),sy1(cfg.risk[i+1]),col,3,'risk-curve-segment',g);}
  cfg.rank.forEach(function(r,i){C(sx(r),sy1(cfg.risk[i]),1.8,r>=cfg.cut?RED:BLUE,'risk-point',g);});
  C(b1[0]+7,b1[1]+11,2.6,RED,'legend-dot-high',g);T(b1[0]+14,b1[1]+15,'High risk',10,'legend-label-high',g,{a:'start'});
  C(b1[0]+7,b1[1]+23,2.6,BLUE,'legend-dot-low',g);T(b1[0]+14,b1[1]+27,'low Risk',10,'legend-label-low',g,{a:'start'});
  T((b1[0]+b1[2])/2-3,b1[3]+32,'Patients (increasing risk socre)',8.5,'x-axis-title',g);
  T(b1[0]-32,(b1[1]+b1[3])/2,'Risk score',8.5,'y-axis-title',g,{rot:1});
  const b2=cfg.bot, sy2=cfg.sy2;
  baseAxes(g,b2,sx,sy2,cfg.xt,cfg.yt2,0,0,9,b2[0]-9,b2[3]+16);
  L(sx(cfg.cut),b2[1],sx(cfg.cut),b2[3],'#444',1,'patient-cutoff-line',g,'2,2');
  cfg.bRank.forEach(function(r,i){C(sx(r),sy2(cfg.bTime[i]),2.5,cfg.bDead[i]?RED:BLUE,cfg.bDead[i]?'dead-point':'alive-point',g);});
  C(b2[0]+7,b2[1]+12,2.6,RED,'legend-dot-dead',g);T(b2[0]+14,b2[1]+16,'Dead',10,'legend-label-dead',g,{a:'start'});
  C(b2[0]+7,b2[1]+24,2.6,BLUE,'legend-dot-alive',g);T(b2[0]+14,b2[1]+28,'Alive',10,'legend-label-alive',g,{a:'start'});
  T((b2[0]+b2[2])/2-3,b2[3]+35,'Patients (increasing risk socre)',8.5,'x-axis-title',g);
  T(b2[0]-32,(b2[1]+b2[3])/2,'Survival time (years)',8,'y-axis-title',g,{rot:1});
}
riskPanel({name:'panel-d-risk-training',sx:lin(0,500,397,652),top:[389,513,672,627],sy1:lin(-0.2,0.2,574,538),yt1:[-0.6,-0.2,0.2],ydec:1,
  xt:[0,100,200,300,400,500],rank:dRank,risk:dRisk,cut:dCut,riskCut:dRiskCut,
  bot:[389,662,672,771],sy2:lin(0,20,766,666),yt2:[0,5,10,15,20],
  bRank:dTime.map(function(t,i){return i*dRankStep;}),bTime:dTime,bDead:dTime.map(function(t,i){return dStatus[i]||0;})});
riskPanel({name:'panel-g-risk-validation',sx:lin(0,600,397,662),top:[389,830,672,938],sy1:lin(-0.08,0.04,933,836),yt1:[-0.08,-0.04,0.00,0.04],ydec:2,
  xt:[0,100,200,300,400,500,600],rank:gRank,risk:gRisk,cut:gCut,riskCut:gRiskCut,
  bot:[389,983,672,1092],sy2:lin(0,15,1087,1007),yt2:[0,5,10,15],
  bRank:gTime.map(function(t,i){return i*gRankStep;}),bTime:gTime,bDead:gTime.map(function(t,i){return gStatus[i]||0;})});
riskPanel({name:'panel-j-risk-external',sx:lin(0,100,395,660),top:[387,1153,675,1259],sy1:lin(0.2,0.4,1248,1183),yt1:[0.20,0.30,0.40],ydec:2,
  xt:[0,20,40,60,80,100],rank:jRank,risk:jRisk,cut:jCut,riskCut:jRiskCut,
  bot:[387,1301,675,1407],sy2:lin(0,12,1404,1304),yt2:[0,2,4,6,8,10,12],
  bRank:jbRank,bTime:jbTime,bDead:jbDead});
letter('D',350,520);letter('G',343,836);letter('J',347,1163);
T(481,1050,'A',38,'overlay-letter-artifact',svg,{w:'bold',fill:'#111'});

// ---------------- PCA PANELS ----------------
function pcaPanel(cfg){
  const g=grp(cfg.name);
  const b=cfg.box,sx=cfg.sx,sy=cfg.sy;
  R(b[0],b[1],b[2]-b[0],b[3]-b[1],'#888','#fff','plot-panel',g);
  cfg.hx.forEach(function(x,i){C(sx(x),sy(cfg.hy[i]),2.7,RED,'pca-point-high',g);});
  cfg.lx.forEach(function(x,i){C(sx(x),sy(cfg.ly[i]),2.7,BLUE,'pca-point-low',g);});
  cfg.hx.forEach(function(x,i){if(i%3===0)C(sx(x),sy(cfg.hy[i]),2.7,RED,'pca-point-high',g);});
  cfg.xt.forEach(function(v){L(sx(v),b[3],sx(v),b[3]+3,'#444',1,'x-tick',g);T(sx(v),b[3]+12,fmt(v,cfg.dec),8.5,'x-tick-label',g,{fill:'#4d4d4d'});});
  cfg.yt.forEach(function(v){L(b[0],sy(v),b[0]-3,sy(v),'#444',1,'y-tick',g);T(b[0]-5,sy(v)+3,fmt(v,cfg.dec),8.5,'y-tick-label',g,{a:'end',fill:'#4d4d4d'});});
  T((b[0]+b[2])/2,b[3]+25,'PC1',11,'x-axis-title',g);
  T(b[0]-cfg.ytOff,(b[1]+b[3])/2,'PC2',11,'y-axis-title',g,{rot:1});
  T(978,cfg.leg+4,'Risk',11,'legend-title',g,{a:'start'});
  C(989,cfg.leg+20,2.6,RED,'legend-dot-high',g);T(999,cfg.leg+23,'high',9,'legend-label-high',g,{a:'start'});
  C(989,cfg.leg+37,2.6,BLUE,'legend-dot-low',g);T(999,cfg.leg+40,'low',9,'legend-label-low',g,{a:'start'});
}
pcaPanel({name:'panel-e-pca-training',box:[723,515,964,772],sx:lin(0,2,874,924),sy:lin(0,2,638,575),xt:[-4,-2,0,2],yt:[-4,-2,0,2],dec:0,ytOff:16,leg:623,hx:eHighX,hy:eHighY,lx:eLowX,ly:eLowY});
pcaPanel({name:'panel-h-pca-validation',box:[723,831,964,1092],sx:lin(0,2,855,915),sy:lin(0,3,1018,958),xt:[-4,-2,0,2],yt:[-3,0,3,6,9],dec:0,ytOff:16,leg:942,hx:hHighX,hy:hHighY,lx:hLowX,ly:hLowY});
pcaPanel({name:'panel-k-pca-external',box:[729,1155,967,1409],sx:lin(0,5,842,960),sy:lin(0,5,1291,1165),xt:[-2.5,0,2.5,5],yt:[-2.5,0,2.5,5],dec:1,ytOff:26,leg:1263,hx:kHighX,hy:kHighY,lx:kLowX,ly:kLowY});
letter('E',697,522);letter('H',692,836);letter('K',697,1160);
</script>
</body></html>
